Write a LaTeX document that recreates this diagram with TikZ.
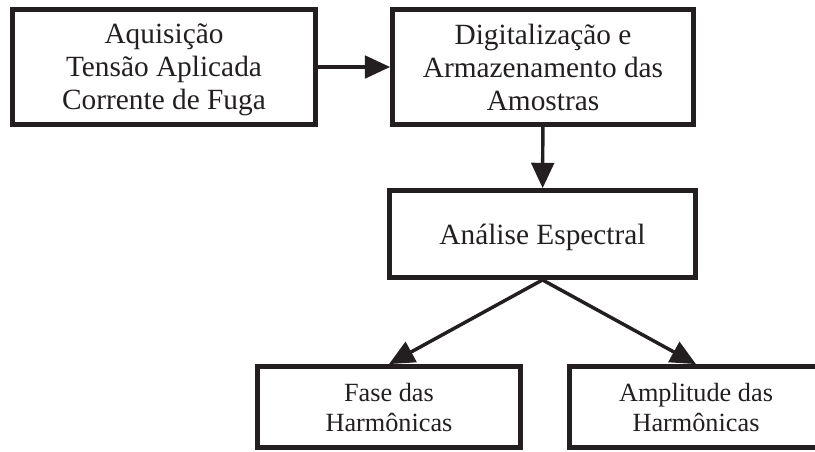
\documentclass[tikz,border=0pt]{standalone}
\usepackage{fontspec}
\setmainfont{Liberation Serif}
\usetikzlibrary{arrows.meta,positioning}
\definecolor{ink}{RGB}{35,31,32}

\begin{document}
\begin{tikzpicture}
[
x=.75pt, y=-.75pt
, >={Triangle[length=19pt,width=17pt]}
, box/.style={draw=ink, text=ink, line width=3.6pt, fill=white, inner sep=0pt, text depth=0pt, align=center, font=\fontsize{22}{24.75}\selectfont}
, small/.style={box, font=\fontsize{19.7}{22.5}\selectfont}
, link/.style={draw=ink, line width=2.6pt, ->}
]

\useasboundingbox (0,0) rectangle (815,451);

% blocks (sizes in pt)
\node[box, minimum width=227.25pt, minimum height=85.9pt] (aquis) at (164,67) {Aquisição\\Tensão Aplicada\\Corrente de Fuga};
\node[box, minimum width=225.75pt, minimum height=85.9pt] (digit) at (543,67) {Digitalização e\\Armazenamento das\\Amostras};
\node[box, minimum width=229.5pt, minimum height=65.25pt] (espec) at (542.5,234) {Análise Espectral};
\node[small, minimum width=196.9pt, minimum height=60.75pt] (fase) at (389,407) {Fase das\\Harmônicas};
\node[small, minimum width=189.4pt, minimum height=60.75pt] (ampl) at (696,407) {Amplitude das\\Harmônicas};

% arrows
\draw[link] (aquis) -- (digit);
\draw[link] (digit) -- (espec);
\draw[link] (espec.south) -- (fase.north);
\draw[link] (espec.south) -- (ampl.north);

\end{tikzpicture}
\end{document}
